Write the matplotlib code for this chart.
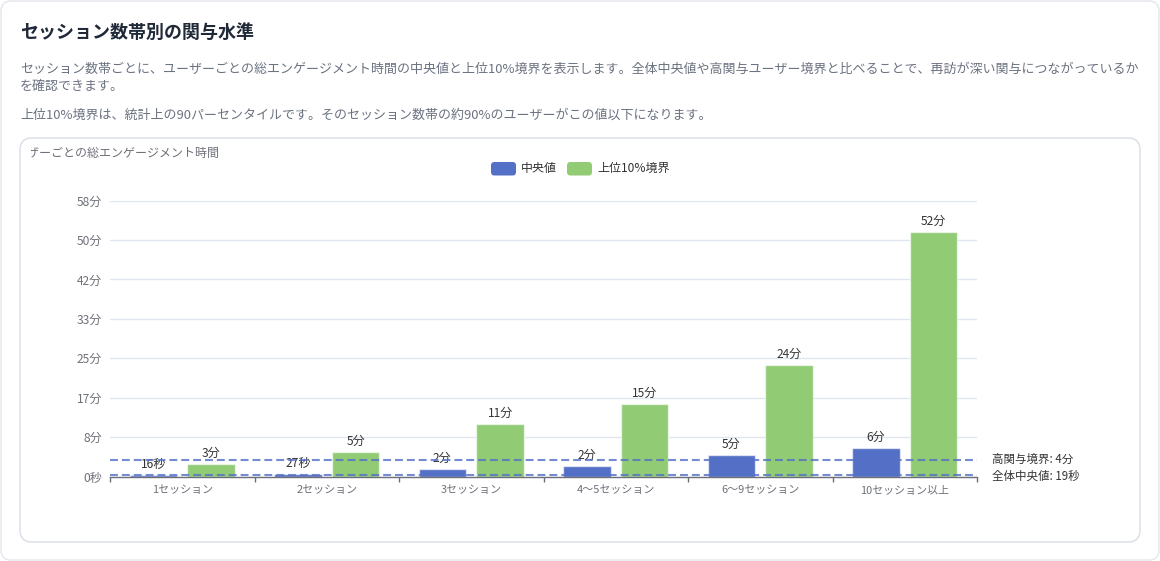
import math
import numpy as np
import matplotlib
matplotlib.use("Agg")
import matplotlib.pyplot as plt
from matplotlib.patches import FancyBboxPatch
from matplotlib.transforms import Bbox, TransformedBbox

plt.rcParams['font.family'] = ['Noto Sans CJK JP', 'DejaVu Sans']

# ---- data ----
categories = ["1セッション", "2セッション", "3セッション", "4〜5セッション", "6〜9セッション", "10セッション以上"]
median_sec = [16, 27, 90, 137, 272, 359]
p90_sec = [155, 313, 663, 925, 1413, 3105]
overall_median_sec = 19
high_threshold_sec = 215
y_ticks_sec = [0, 500, 1000, 1500, 2000, 2500, 3000, 3500]
series_names = ["中央値", "上位10%境界"]
series_colors = ["#5470c6", "#91cc75"]

title = "セッション数帯別の関与水準"
sub1 = ("セッション数帯ごとに、ユーザーごとの総エンゲージメント時間の中央値と上位10%境界を表示します。"
        "全体中央値や高関与ユーザー境界と比べることで、再訪が深い関与につながっているか")
sub2 = "を確認できます。"
sub3 = "上位10%境界は、統計上の90パーセンタイルです。そのセッション数帯の約90%のユーザーがこの値以下になります。"
y_name = "ユーザーごとの総エンゲージメント時間"


def fmt(v):
    if v < 60:
        return f"{int(v)}秒"
    return f"{int(math.floor(v / 60 + 0.5))}分"


W, H = 1160, 561
fig = plt.figure(figsize=(W / 100, H / 100), dpi=100)
fig.patch.set_facecolor("white")

PX = 0.72  # points per pixel

# background axes in pixel coordinates
bg = fig.add_axes([0, 0, 1, 1], zorder=0)
bg.set_xlim(0, W)
bg.set_ylim(H, 0)
bg.axis("off")

outer = FancyBboxPatch((1, 1), W - 2, H - 2, boxstyle="round,pad=0,rounding_size=10",
                       facecolor="white", edgecolor="#e3e6ee", linewidth=1)
bg.add_patch(outer)
inner = FancyBboxPatch((20, 138), 1120, 404, boxstyle="round,pad=0,rounding_size=12",
                       facecolor="white", edgecolor="#d8dce8", linewidth=1)
bg.add_patch(inner)

bg.text(20, 33, title, fontsize=18 * PX, fontweight="bold", color="#1f2937", va="center", ha="left")
bg.text(20, 69, sub1, fontsize=13 * PX, color="#6b7280", va="center", ha="left")
bg.text(20, 86, sub2, fontsize=13 * PX, color="#6b7280", va="center", ha="left")
bg.text(20, 115, sub3, fontsize=13 * PX, color="#6b7280", va="center", ha="left")

# y-axis name (clipped at left like the reference)
yt = bg.text(219, 153, y_name, fontsize=12 * PX, color="#6e7079", va="center", ha="right")
yt.set_clip_on(True)
yt.set_clip_box(TransformedBbox(Bbox.from_extents(31 / W, 0, 1, 1), fig.transFigure))

# legend
leg_x = [491, 567]
for i, (name, col) in enumerate(zip(series_names, series_colors)):
    bg.add_patch(FancyBboxPatch((leg_x[i], 162), 25, 13.5, boxstyle="round,pad=0,rounding_size=3.5",
                                facecolor=col, edgecolor="none"))
    bg.text(leg_x[i] + 30, 168.5, name, fontsize=12 * PX, color="#333333", va="center", ha="left")

# ---- chart axes ----
left, right, top, bottom = 110, 977, 200.7, 476.5
ax = fig.add_axes([left / W, 1 - bottom / H, (right - left) / W, (bottom - top) / H], zorder=1)
ax.patch.set_alpha(0)

x = np.arange(len(categories))
bw = 0.33
off = 0.2
b1 = ax.bar(x - off, median_sec, width=bw, color=series_colors[0],
            edgecolor=(1, 1, 1, 0.6), linewidth=1, zorder=3)
b2 = ax.bar(x + off, p90_sec, width=bw, color=series_colors[1],
            edgecolor=(1, 1, 1, 0.6), linewidth=1, zorder=3)
ax.bar_label(b1, labels=[fmt(v) for v in median_sec], padding=3, fontsize=12 * PX, color="#333333", zorder=5)
ax.bar_label(b2, labels=[fmt(v) for v in p90_sec], padding=3, fontsize=12 * PX, color="#333333", zorder=5)

ax.set_xlim(-0.5, len(categories) - 0.5)
ax.set_ylim(0, y_ticks_sec[-1])

ax.set_yticks(y_ticks_sec)
ax.set_yticklabels([fmt(v) if v > 0 else "0秒" for v in y_ticks_sec])
ax.tick_params(axis="y", length=0, pad=8 * PX, labelsize=12 * PX, labelcolor="#6e7079")
ax.yaxis.grid(True, color="#e0e6f1", linewidth=1, zorder=0)
ax.set_axisbelow(True)

ax.set_xticks(x)
ax.set_xticklabels(categories)
ax.set_xticks(np.arange(len(categories) + 1) - 0.5, minor=True)
ax.tick_params(axis="x", which="major", length=0, pad=9 * PX, labelsize=11 * PX, labelcolor="#6e7079")
ax.tick_params(axis="x", which="minor", length=5 * PX, width=1, color="#6e7079", direction="out")

for s in ["left", "right", "top"]:
    ax.spines[s].set_visible(False)
ax.spines["bottom"].set_color("#6e7079")
ax.spines["bottom"].set_linewidth(1)
ax.spines["bottom"].set_zorder(4)

# reference lines
line_col = (0.33, 0.44, 0.78, 0.8)
for val in [high_threshold_sec, overall_median_sec]:
    ax.axhline(val, color=line_col, linewidth=1.5, linestyle=(0, (3.8, 1.9)), zorder=6, clip_on=False)

lab_x = 1.0 + 15 / (right - left)
ax.text(lab_x, high_threshold_sec, f"高関与境界: {fmt(high_threshold_sec)}", transform=ax.get_yaxis_transform(),
        fontsize=11.5 * PX, color="#333333", va="center", ha="left", clip_on=False)
ax.text(lab_x, overall_median_sec - 20, f"全体中央値: {fmt(overall_median_sec)}",
        transform=ax.get_yaxis_transform(), fontsize=11.5 * PX, color="#333333", va="center", ha="left",
        clip_on=False)

fig.savefig("out.png", dpi=100, facecolor="white")
